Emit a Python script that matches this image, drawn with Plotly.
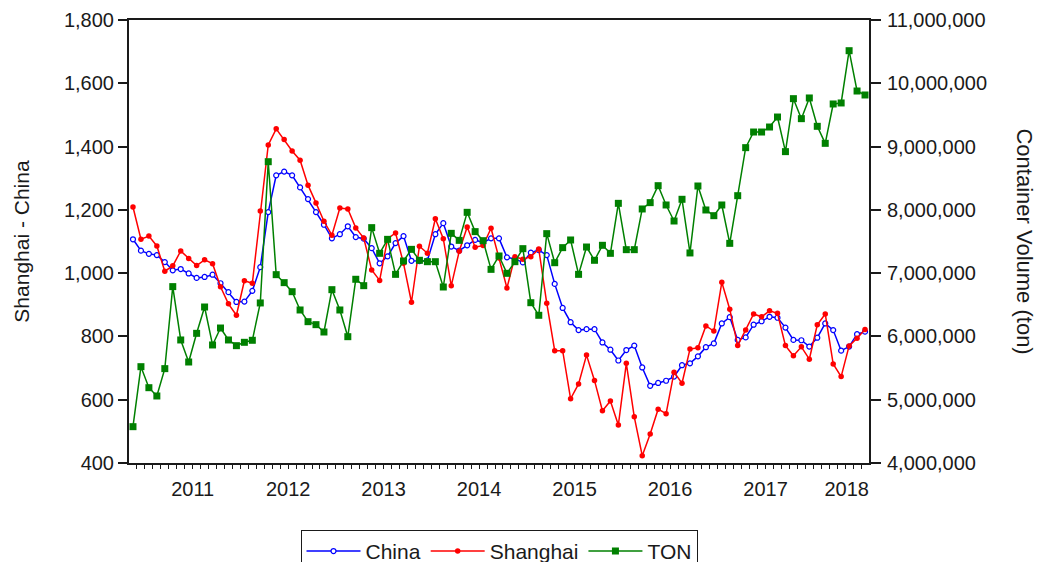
import pandas as pd
import plotly.graph_objects as go

# Monthly observations, Nov 2010 - Jul 2018
months = pd.period_range("2010-11", "2018-07", freq="M")

china = [
    1107, 1071, 1061, 1057, 1035, 1009, 1013, 999, 985, 988, 995, 968,
    940, 909, 910, 944, 1019, 1193, 1309, 1321, 1309, 1271, 1234, 1193,
    1153, 1110, 1123, 1148, 1114, 1109, 1079, 1031, 1053, 1095, 1117, 1039,
    1038, 1040, 1123, 1158, 1084, 1071, 1088, 1105, 1096, 1110, 1110, 1050,
    1045, 1034, 1065, 1073, 1057, 966, 890, 845, 820, 823, 823, 781,
    758, 724, 757, 771, 702, 644, 653, 660, 673, 709, 715, 737,
    766, 778, 841, 861, 789, 797, 837, 848, 862, 859, 828, 789,
    788, 768, 796, 841, 820, 755, 768, 807, 815,
]

shanghai = [
    1209, 1107, 1117, 1086, 1006, 1023, 1070, 1046, 1024, 1042, 1030, 957,
    903, 867, 976, 968, 1196, 1405, 1456, 1422, 1386, 1357, 1278, 1222,
    1164, 1120, 1206, 1203, 1143, 1111, 1010, 977, 1109, 1127, 1031, 908,
    1085, 1063, 1172, 1109, 960, 1069, 1146, 1082, 1087, 1142, 1048, 953,
    1052, 1044, 1052, 1076, 905, 755, 755, 603, 650, 741, 661, 565,
    596, 520, 715, 546, 423, 492, 570, 556, 687, 652, 760, 764,
    833, 817, 971, 886, 771, 820, 871, 862, 881, 873, 771, 739,
    767, 728, 837, 871, 713, 673, 770, 794, 822,
]

ton = [
    4574000, 5522000, 5190000, 5059000, 5491000, 6787000, 5944000, 5596000,
    6049000, 6465000, 5865000, 6133000, 5944000, 5854000, 5907000, 5939000,
    6529000, 8761000, 6976000, 6850000, 6707000, 6418000, 6233000, 6186000,
    6070000, 6739000, 6418000, 5996000, 6903000, 6802000, 7719000, 7313000,
    7534000, 6981000, 7192000, 7376000, 7203000, 7181000, 7181000, 6781000,
    7629000, 7518000, 7961000, 7656000, 7513000, 7060000, 7271000, 6997000,
    7181000, 7387000, 6533000, 6334000, 7624000, 7165000, 7403000, 7524000,
    6981000, 7413000, 7203000, 7440000, 7313000, 8103000, 7371000, 7371000,
    8014000, 8114000, 8382000, 8077000, 7824000, 8167000, 7319000, 8377000,
    7998000, 7908000, 8077000, 7471000, 8224000, 8983000, 9230000, 9230000,
    9309000, 9467000, 8920000, 9757000, 9441000, 9768000, 9320000, 9051000,
    9673000, 9689000, 10515000, 9878000, 9815000,
]

left_ticks = [400, 600, 800, 1000, 1200, 1400, 1600, 1800]
right_ticks = [4000000, 5000000, 6000000, 7000000, 8000000,
               9000000, 10000000, 11000000]

FONT = "Liberation Sans, Arial, sans-serif"
INK = "#1a1a1a"

n = len(months)
idx = list(range(n))
x_lo, x_hi = -0.5, n - 0.5

# year boundaries (major ticks) and month boundaries (minor ticks)
year_start = [i for i, m in enumerate(months) if m.month == 1]
year_bounds = [i - 0.5 for i in year_start]
month_bounds = [i + 0.5 for i in range(n - 1)]
years = [str(months[i].year) for i in year_start]
# labels centred in each year's span, kept inside the axis for the last one
year_mid = [min(b + 6.0, x_hi - 2.8) for b in year_bounds]

fig = go.Figure()

fig.add_trace(go.Scatter(
    x=idx, y=china, name="China", mode="lines+markers",
    line=dict(color="#0000ff", width=1.5),
    marker=dict(symbol="circle", size=5, color="white",
                line=dict(color="#0000ff", width=1.2)),
))
fig.add_trace(go.Scatter(
    x=idx, y=shanghai, name="Shanghai", mode="lines+markers",
    line=dict(color="#ff0000", width=1.5),
    marker=dict(symbol="circle", size=5.5, color="#ff0000"),
))
fig.add_trace(go.Scatter(
    x=idx, y=ton, name="TON", mode="lines+markers", yaxis="y2",
    line=dict(color="#008000", width=1.5),
    marker=dict(symbol="square", size=7, color="#008000"),
))
# carrier for the year-label axis
fig.add_trace(go.Scatter(
    x=idx, y=china, xaxis="x2", yaxis="y", mode="markers",
    marker=dict(opacity=0), showlegend=False, hoverinfo="skip",
))

fig.update_layout(
    width=1037, height=562,
    margin=dict(l=129, r=168, t=20, b=99, autoexpand=False),
    paper_bgcolor="white", plot_bgcolor="white",
    font=dict(family=FONT, size=20, color=INK),
    showlegend=True,
    legend=dict(
        orientation="h", x=0.5, xanchor="center", y=-0.151, yanchor="top",
        bordercolor=INK, borderwidth=1, bgcolor="white",
        font=dict(family=FONT, size=21, color=INK), itemwidth=54,
    ),
    xaxis=dict(
        range=[x_lo, x_hi], tickmode="array", tickvals=year_bounds,
        ticktext=[""] * len(year_bounds), ticks="outside", ticklen=8,
        tickwidth=1.5, tickcolor=INK, showline=True, linecolor=INK,
        linewidth=2, mirror=True, showgrid=False, zeroline=False,
        minor=dict(tickmode="array", tickvals=month_bounds, ticks="outside",
                   ticklen=4, tickwidth=1, tickcolor=INK, showgrid=False),
    ),
    xaxis2=dict(
        overlaying="x", anchor="y", side="bottom", range=[x_lo, x_hi],
        tickmode="array", tickvals=year_mid, ticktext=years, ticks="",
        showline=False, showgrid=False, zeroline=False,
        tickfont=dict(family=FONT, size=20, color=INK),
        ticklabelstandoff=12,
    ),
    yaxis=dict(
        range=[400, 1800], tickmode="array", tickvals=left_ticks,
        tickformat=",", ticks="outside", ticklen=9, tickwidth=1.5,
        tickcolor=INK, showline=True, linecolor=INK, linewidth=2,
        showgrid=False, zeroline=False,
        title=dict(text="Shanghai - China", standoff=29,
                   font=dict(family=FONT, size=21, color=INK)),
    ),
    yaxis2=dict(
        overlaying="y", side="right", range=[4000000, 11000000],
        tickmode="array", tickvals=right_ticks, tickformat=",",
        ticks="outside", ticklen=10, tickwidth=1.5, tickcolor=INK,
        showline=True, linecolor=INK, linewidth=2, ticklabelstandoff=2,
        showgrid=False, zeroline=False,
    ),
    annotations=[dict(
        text="Container Volume (ton)", xref="paper", yref="paper",
        x=1.2095, y=0.5, xanchor="center", yanchor="middle",
        textangle=90, showarrow=False,
        font=dict(family=FONT, size=22, color=INK),
    )],
)

fig.write_html("out.html")
